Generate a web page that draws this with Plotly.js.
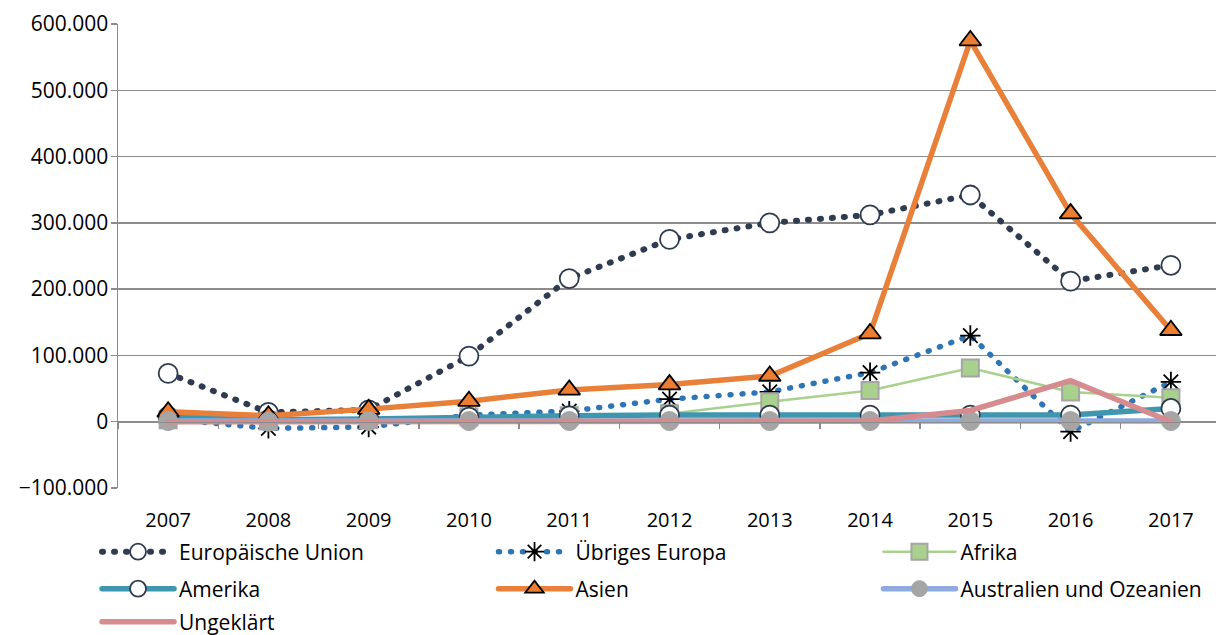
<!DOCTYPE html>
<html>
<head>
<meta charset="utf-8">
<script src="https://cdn.plot.ly/plotly-3.0.1.min.js"></script>
<style>
html,body{margin:0;padding:0;background:#fff;}
#chart{width:1216px;height:635px;}
path.js-line{stroke-linecap:round;}
</style>
</head>
<body>
<div id="chart"></div>
<script>
const years = ['2007','2008','2009','2010','2011','2012','2013','2014','2015','2016','2017'];
const europaeischeUnion = [73000, 14000, 18000, 99000, 216000, 275000, 300000, 312000, 342000, 212000, 236000];
const uebrigesEuropa = [4000, -10000, -8000, 10000, 16000, 34000, 45000, 74000, 130000, -15000, 60000];
const afrika = [3000, 1000, 3000, 7000, 9000, 12000, 30000, 47000, 81000, 45000, 36000];
const amerika = [8000, 3000, 4000, 7000, 9000, 10000, 10000, 10000, 10000, 10000, 20000];
const asien = [15000, 9000, 19000, 31000, 48000, 56000, 69000, 133000, 575000, 314000, 138000];
const australien = [1000, 0, 1000, 1000, 1000, 1000, 1000, 1000, 1000, 1000, 1000];
const ungeklaert = [0, 0, 0, 0, 0, 0, 0, 1000, 17000, 62000, 0];

const FONT = 'Open Sans, sans-serif';

const traces = [
  {name:'Europäische Union', x:years, y:europaeischeUnion, mode:'lines+markers', legend:'legend',
   line:{color:'#2F3B4F', width:6, dash:'1px,11px'},
   marker:{symbol:'circle', size:19, color:'#ffffff', line:{color:'#2F3B4F', width:1.8}}},
  {name:'Übriges Europa', x:years, y:uebrigesEuropa, mode:'lines+markers', legend:'legend2',
   line:{color:'#2E75B6', width:5.5, dash:'1px,11px'},
   marker:{symbol:'asterisk-open', size:17, color:'#000000', line:{color:'#000000', width:1.8}}},
  {name:'Afrika', x:years, y:afrika, mode:'lines+markers', legend:'legend3',
   line:{color:'#A9D18E', width:2.5},
   marker:{symbol:'square', size:17, color:'#A9D18E', line:{color:'#A5A5A5', width:2}}},
  {name:'Amerika', x:years, y:amerika, mode:'lines+markers', legend:'legend4',
   line:{color:'#3F97AF', width:5.5},
   marker:{symbol:'circle', size:19, color:'#ffffff', line:{color:'#2F3B4F', width:1.8}}},
  {name:'Asien', x:years, y:asien, mode:'lines+markers', legend:'legend5',
   line:{color:'#E8803A', width:5.5},
   marker:{symbol:'triangle-up', size:19, color:'#ED7D31', line:{color:'#000000', width:1.8}}},
  {name:'Australien und Ozeanien', x:years, y:australien, mode:'lines+markers', legend:'legend6',
   line:{color:'#8FAADC', width:5.5},
   marker:{symbol:'circle', size:19, color:'#A5A5A5', line:{color:'#A5A5A5', width:1}}},
  {name:'Ungeklärt', x:years, y:ungeklaert, mode:'lines', legend:'legend7',
   line:{color:'#D68C8E', width:5.5}}
];

function leg(x, y) {
  return {orientation:'h', xanchor:'left', yanchor:'middle', x:x, y:y,
    font:{family:FONT, size:21, color:'#000'}, itemwidth:72,
    bgcolor:'rgba(0,0,0,0)', borderwidth:0};
}
const colX = [-0.0191, 0.342, 0.6926];
const rowY = [-0.138, -0.2177, -0.2890];

const layout = {
  width:1216, height:635,
  margin:{l:118, r:0, t:24, b:147, autoexpand:false},
  separators:',.',
  paper_bgcolor:'#ffffff', plot_bgcolor:'#ffffff',
  showlegend:true,
  font:{family:FONT, size:21, color:'#000'},
  xaxis:{type:'category', range:[-0.5, 10.45], anchor:'free', position:1/7,
    showline:true, linecolor:'#8C8C8C', linewidth:1.5,
    ticks:'outside', ticklen:6, tickcolor:'#8C8C8C', tickwidth:1.5, tickson:'boundaries',
    showgrid:false, zeroline:false, ticklabelstandoff:80,
    tickfont:{family:FONT, size:20, color:'#000'}},
  yaxis:{range:[-100000, 600000], dtick:100000, tick0:0, tickformat:',d',
    showline:true, linecolor:'#8C8C8C', linewidth:1.5,
    ticks:'outside', ticklen:6, tickcolor:'#8C8C8C', tickwidth:1.5,
    showgrid:true, gridcolor:'#8C8C8C', gridwidth:1.5, zeroline:false,
    tickfont:{family:FONT, size:21, color:'#000'}, ticklabelstandoff:-2},
  legend:leg(colX[0], rowY[0]),
  legend2:leg(colX[1], rowY[0]),
  legend3:leg(colX[2], rowY[0]),
  legend4:leg(colX[0], rowY[1]),
  legend5:leg(colX[1], rowY[1]),
  legend6:leg(colX[2], rowY[1]),
  legend7:leg(colX[0], rowY[2])
};

Plotly.newPlot('chart', traces, layout, {displayModeBar:false, staticPlot:true});
</script>
</body>
</html>
